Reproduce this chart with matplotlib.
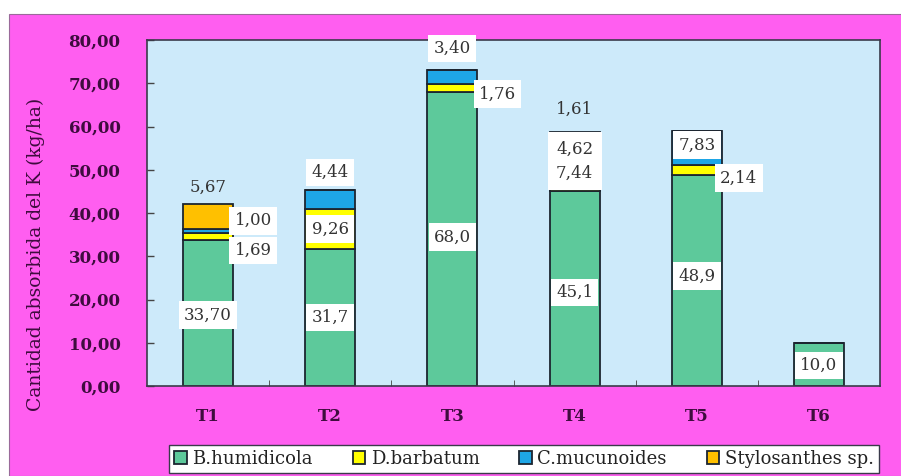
import matplotlib
matplotlib.use("Agg")
import matplotlib.pyplot as plt
import numpy as np
from matplotlib.patches import Rectangle

# datos
tratamientos = ["T1", "T2", "T3", "T4", "T5", "T6"]
especies = ["B.humidicola", "D.barbatum", "C.mucunoides", "Stylosanthes sp."]
b_humidicola = [33.70, 31.7, 68.0, 45.1, 48.9, 10.0]
d_barbatum = [1.69, 9.26, 1.76, 7.44, 2.14, 0.0]
c_mucunoides = [1.00, 4.44, 3.40, 4.62, 7.83, 0.0]
stylosanthes = [5.67, 0.0, 0.0, 1.61, 0.0, 0.0]
y_ticks = [0, 10, 20, 30, 40, 50, 60, 70, 80]

colores = ["#5dc99b", "#ffff00", "#1ea6e6", "#ffc000"]
ROSA = "#ff5ef0"
FONDO = "#cdeafa"
MORADO = "#3e0c3e"
TEXTO = "#333333"

# etiquetas: (texto, tratamiento, serie, modo, dx px, dy px, caja)
etiquetas = [
    ("33,70", 0, 0, "in", 0, -2, True),
    ("1,69", 0, 1, "right", 45, -14, True),
    ("1,00", 0, 2, "right", 45, 10, True),
    ("5,67", 0, 3, "above", 0, 17, False),
    ("31,7", 1, 0, "in", 0, 0, True),
    ("9,26", 1, 1, "in", 0, 0, True),
    ("4,44", 1, 2, "above", 0, 17, True),
    ("68,0", 2, 0, "in", 0, 2, True),
    ("1,76", 2, 1, "right", 45, -6, True),
    ("3,40", 2, 2, "above", 0, 21, True),
    ("45,1", 3, 0, "in", 0, -4, True),
    ("4,62\n7,44", 3, 1, "block", 0, 0, True),
    ("1,61", 3, 3, "above", 0, 22, False),
    ("48,9", 4, 0, "in", 0, 4, True),
    ("2,14", 4, 1, "right", 42, -8, True),
    ("7,83", 4, 2, "in", 0, 3, True),
    ("10,0", 5, 0, "in", 0, -1, True),
]


def fmt(v):
    return f"{v:.2f}".replace(".", ",")


if __name__ == "__main__":
    plt.rcParams["font.family"] = ["DejaVu Serif"]

    fig = plt.figure(figsize=(9.01, 4.76), dpi=100, facecolor="white")
    fig.patches.append(Rectangle((9 / 901, 0), 1, 1 - 14 / 476,
                                 transform=fig.transFigure, facecolor=ROSA,
                                 edgecolor="#9a6a9a", linewidth=0.8, zorder=-1))

    ax = fig.add_axes([147 / 901, 1 - 386 / 476, (880 - 147) / 901, (386 - 40) / 476])
    ax.set_facecolor(FONDO)

    series = np.array([b_humidicola, d_barbatum, c_mucunoides, stylosanthes])
    x = np.arange(len(tratamientos))
    ancho = 0.41
    base = np.zeros(len(tratamientos))
    bases = []
    barras = []
    for valores, color, nombre in zip(series, colores, especies):
        bases.append(base.copy())
        b = ax.bar(x, valores, ancho, bottom=base, color=color,
                   edgecolor="#1c2530", linewidth=1.3, label=nombre, zorder=2)
        barras.append(b)
        base = base + valores
    totales = base

    for texto, i, s, modo, dx, dy, caja in etiquetas:
        if modo == "above":
            yv = totales[i]
        elif modo == "block":
            yv = (bases[s][i] + totales[i]) / 2
        else:
            yv = bases[s][i] + series[s][i] / 2
        kw = {}
        if caja:
            pad = 0.32 if modo != "block" else 0.5
            kw["bbox"] = dict(boxstyle=f"square,pad={pad}", facecolor="white",
                              edgecolor="none")
        ax.annotate(texto, (x[i], yv), xytext=(dx * 0.72, dy * 0.72),
                    textcoords="offset points", ha="center", va="center",
                    fontsize=12, color=TEXTO, zorder=5,
                    linespacing=1.55 if modo == "block" else 1.2, **kw)

    ax.set_xlim(-0.5, len(tratamientos) - 0.5)
    ax.set_ylim(0, 80)
    ax.set_yticks(y_ticks)
    ax.set_yticklabels([fmt(v) for v in y_ticks])
    ax.set_xticks(x)
    ax.set_xticklabels(tratamientos)
    ax.set_xticks(np.arange(0.5, len(tratamientos) - 0.5), minor=True)
    ax.tick_params(axis="y", direction="in", length=5, width=1, color="#444444",
                   pad=19, labelsize=12, labelcolor=MORADO)
    ax.tick_params(axis="x", which="major", length=0, pad=16, labelsize=12,
                   labelcolor=MORADO)
    ax.tick_params(axis="x", which="minor", direction="in", length=4,
                   color="#444444")
    for lab in ax.get_yticklabels() + ax.get_xticklabels():
        lab.set_fontweight("bold")
    for sp in ax.spines.values():
        sp.set_color("#3a3a4a")
        sp.set_linewidth(1.2)

    ax.set_ylabel("Cantidad absorbida del K (kg/ha)", fontsize=13.5, color=MORADO)
    ax.yaxis.set_label_coords(-0.139, 0.38)

    leg = fig.legend(handles=barras, labels=especies, ncol=4, loc="center",
                     bbox_to_anchor=(524 / 901, 1 - 459 / 476), frameon=True,
                     fancybox=False, edgecolor="#3a3a4a", facecolor="white",
                     framealpha=1, fontsize=13,
                     handlelength=0.7, handleheight=0.7, handletextpad=0.3,
                     columnspacing=2.2, borderpad=0.3)
    leg.get_frame().set_linewidth(1.0)
    for t in leg.get_texts():
        t.set_color("#222222")

    fig.savefig("out.png", dpi=100, facecolor=fig.get_facecolor())
    plt.close(fig)
